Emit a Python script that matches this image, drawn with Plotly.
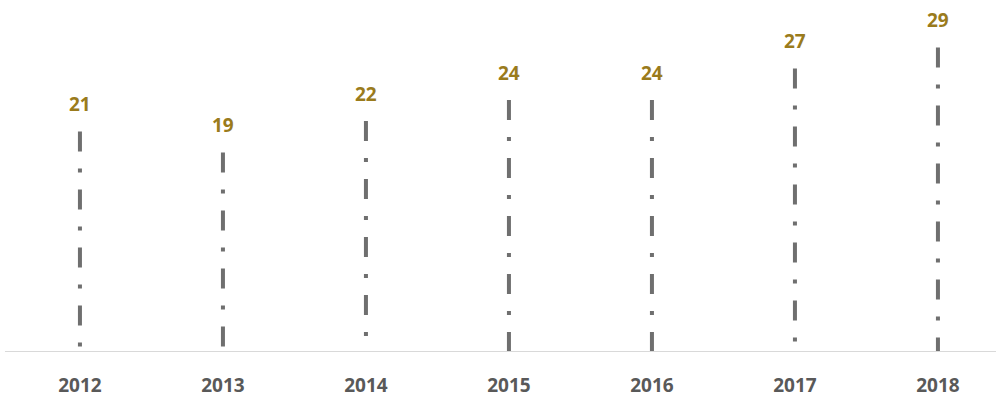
import plotly.graph_objects as go

years = ["2012", "2013", "2014", "2015", "2016", "2017", "2018"]
values = [21, 19, 22, 24, 24, 27, 29]

line_color = "#6f6f6f"
label_color = "#9a7b1c"
year_color = "#595959"

fig = go.Figure()

# one dash-dot stem per year, drawn from the value down to zero
for i, v in enumerate(values):
    fig.add_trace(go.Scatter(
        x=[i, i], y=[v, 0], mode="lines",
        line=dict(color=line_color, width=4, dash="20px,17px,4px,17px"),
        hoverinfo="skip", showlegend=False,
    ))
    fig.add_annotation(
        x=i, y=v, text=f"<b>{v}</b>", showarrow=False,
        yanchor="bottom", yshift=12,
        font=dict(family="Open Sans", size=19, color=label_color),
    )

fig.update_layout(
    width=996, height=398,
    margin=dict(l=0, r=0, t=0, b=46),
    paper_bgcolor="white", plot_bgcolor="white",
    xaxis=dict(
        range=[-0.559, 6.406], showgrid=False, zeroline=False,
        tickmode="array", tickvals=list(range(len(years))),
        ticktext=[f"<b>{y}</b>" for y in years],
        tickfont=dict(family="Open Sans", size=19, color=year_color),
        ticks="", showline=False, ticklabelstandoff=20,
    ),
    yaxis=dict(range=[0, 33.52], visible=False),
)

# light baseline along the bottom of the plot
fig.add_shape(type="line", xref="paper", yref="y", x0=0.005, x1=1, y0=0, y1=0,
              line=dict(color="#d9d9d9", width=2))

fig.write_html("out.html")
